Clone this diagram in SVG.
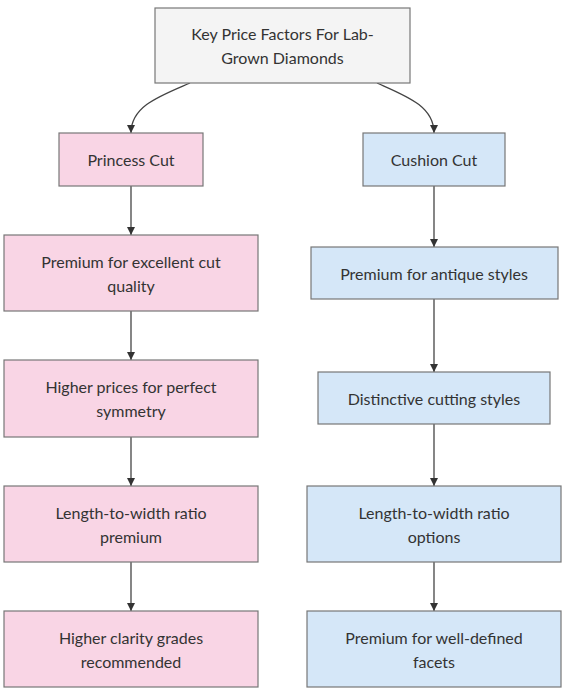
<svg xmlns="http://www.w3.org/2000/svg" width="565" height="695" viewBox="0 0 565 695">
<style>
.n rect{stroke:#777;stroke-width:1.2}
.root rect{fill:#f4f4f4}
.pink rect{fill:#f9d5e5}
.blue rect{fill:#d5e7f8}
text{font-family:Lato,"Liberation Sans",sans-serif;font-size:16px;fill:#333;text-anchor:middle;dominant-baseline:central}
.e path{fill:none;stroke:#444;stroke-width:1.3}
</style>
<defs>
<marker id="arr" viewBox="0 0 10 10" refX="10" refY="5" markerWidth="8" markerHeight="8" markerUnits="userSpaceOnUse" orient="auto">
<path d="M0,0 L10,5 L0,10 z" fill="#333"/>
</marker>
</defs>
<g class="e">
<path d="M190,83 C160,96 131,106 131,133" marker-end="url(#arr)"/>
<path d="M377,83 C406,96 434,106 434,133" marker-end="url(#arr)"/>
<path d="M131,186 L131,235" marker-end="url(#arr)"/>
<path d="M131,311 L131,360" marker-end="url(#arr)"/>
<path d="M131,437 L131,486" marker-end="url(#arr)"/>
<path d="M131,562 L131,611" marker-end="url(#arr)"/>
<path d="M434,186 L434,247" marker-end="url(#arr)"/>
<path d="M434,299 L434,372" marker-end="url(#arr)"/>
<path d="M434,424 L434,486" marker-end="url(#arr)"/>
<path d="M434,562 L434,611" marker-end="url(#arr)"/>
</g>
<g id="root" class="n root"><rect x="155" y="8" width="255" height="75"/><text x="282.5" y="33.5">Key Price Factors For Lab-</text><text x="282.5" y="57.5">Grown Diamonds</text></g>
<g id="princess" class="n pink"><rect x="59" y="133" width="144" height="53"/><text x="131" y="159.5">Princess Cut</text></g>
<g id="p1" class="n pink"><rect x="4" y="235" width="254" height="76"/><text x="131" y="261">Premium for excellent cut</text><text x="131" y="285">quality</text></g>
<g id="p2" class="n pink"><rect x="4" y="360" width="254" height="77"/><text x="131" y="386.5">Higher prices for perfect</text><text x="131" y="410.5">symmetry</text></g>
<g id="p3" class="n pink"><rect x="4" y="486" width="254" height="76"/><text x="131" y="512">Length-to-width ratio</text><text x="131" y="536">premium</text></g>
<g id="p4" class="n pink"><rect x="4" y="611" width="254" height="76"/><text x="131" y="637">Higher clarity grades</text><text x="131" y="661">recommended</text></g>
<g id="cushion" class="n blue"><rect x="363" y="133" width="142" height="53"/><text x="434" y="159.5">Cushion Cut</text></g>
<g id="c1" class="n blue"><rect x="311" y="247" width="247" height="52"/><text x="434" y="273">Premium for antique styles</text></g>
<g id="c2" class="n blue"><rect x="318" y="372" width="232" height="52"/><text x="434" y="398">Distinctive cutting styles</text></g>
<g id="c3" class="n blue"><rect x="307" y="486" width="254" height="76"/><text x="434" y="512">Length-to-width ratio</text><text x="434" y="536">options</text></g>
<g id="c4" class="n blue"><rect x="307" y="611" width="254" height="76"/><text x="434" y="637">Premium for well-defined</text><text x="434" y="661">facets</text></g>
</svg>
